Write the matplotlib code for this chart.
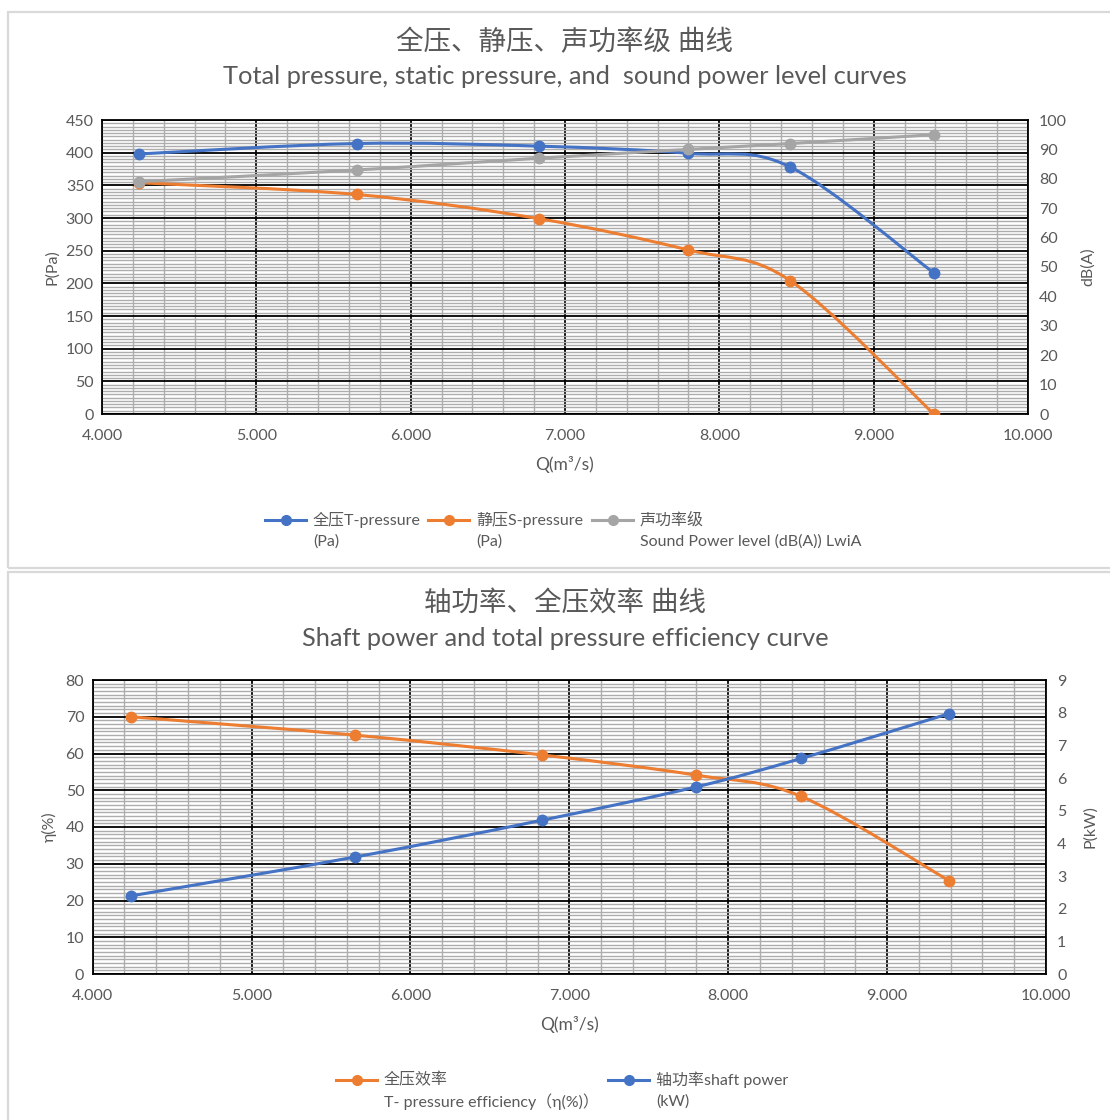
import matplotlib
matplotlib.use("Agg")
import matplotlib.pyplot as plt
import numpy as np
from matplotlib.path import Path
from matplotlib.patches import PathPatch, Rectangle
from matplotlib.lines import Line2D
from matplotlib.ticker import MultipleLocator, FormatStrFormatter

plt.rcParams['font.family'] = ['Lato', 'Noto Sans CJK SC', 'DejaVu Sans']

# flow rate Q (m3/s), shared by both charts
q = [4.24, 5.65, 6.83, 7.80, 8.46, 9.39]

# top chart
t_pressure = [398, 414, 410, 399, 378, 216]
s_pressure = [354, 336, 299, 251, 204, 0]
sound_level = [79, 83, 87, 90, 92, 95]

# bottom chart
efficiency = [70, 65, 59.6, 54.1, 48.3, 25.4]
shaft_power = [2.39, 3.58, 4.71, 5.73, 6.60, 7.97]

top_labels = [('全压T-pressure', '(Pa)'), ('静压S-pressure', '(Pa)'),
              ('声功率级', 'Sound Power level (dB(A)) LwiA')]
bottom_labels = [('全压效率', 'T- pressure efficiency（η(%)）'), ('轴功率shaft power', '(kW)')]

BLUE = '#4472C4'
ORANGE = '#ED7D31'
GRAY = '#A5A5A5'
TXT = '#595959'
W, H = 1110, 1120
FS = 11.5


def fx(px):
    return px / W


def fy(py):
    return 1 - py / H


def smooth_path(xs, ys):
    """Excel-style smoothed line as cubic bezier segments"""
    pts = np.column_stack([xs, ys]).astype(float)
    ext = np.vstack([pts[0], pts, pts[-1]])
    verts = [pts[0]]
    codes = [Path.MOVETO]
    for i in range(len(pts) - 1):
        p0, p1, p2, p3 = ext[i], ext[i + 1], ext[i + 2], ext[i + 3]
        verts += [p1 + (p2 - p0) / 6, p2 - (p3 - p1) / 6, p2]
        codes += [Path.CURVE4] * 3
    return Path(verts, codes)


def draw_series(ax, xs, ys, color, z):
    ax.add_patch(PathPatch(smooth_path(xs, ys), facecolor='none', edgecolor=color,
                           lw=2.2, zorder=z, capstyle='round'))
    ax.plot(xs, ys, ls='none', marker='o', ms=7.5, color=color, zorder=z + 0.5)


def legend_entry(x0, y0, color, lines):
    # hand-made legend entry: handle lines up with the first text row
    fig.add_artist(Line2D([fx(x0), fx(x0 + 41)], [fy(y0), fy(y0)], color=color, lw=2.2,
                          transform=fig.transFigure))
    fig.add_artist(Line2D([fx(x0 + 20.5)], [fy(y0)], marker='o', ms=7, color=color,
                          transform=fig.transFigure))
    for k, s in enumerate(lines):
        fig.text(fx(x0 + 48), fy(y0 + 22 * k), s, ha='left', va='center',
                 fontsize=FS, color=TXT)


def style_axes(ax, ymax, ymaj, ymin):
    ax.set_xlim(4, 10)
    ax.set_ylim(0, ymax)
    ax.xaxis.set_major_locator(MultipleLocator(1))
    ax.xaxis.set_minor_locator(MultipleLocator(0.2))
    ax.yaxis.set_major_locator(MultipleLocator(ymaj))
    ax.yaxis.set_minor_locator(MultipleLocator(ymin))
    ax.xaxis.set_major_formatter(FormatStrFormatter('%.3f'))
    ax.grid(which='major', color='black', lw=1.3)
    ax.grid(which='minor', color='#ADADAD', lw=1.0)
    ax.set_axisbelow(True)
    ax.tick_params(which='both', length=0, labelsize=FS, labelcolor=TXT)
    ax.tick_params(axis='x', pad=11)
    ax.tick_params(axis='y', pad=6)
    for s in ax.spines.values():
        s.set_color('black')
        s.set_linewidth(1.3)
    ax.set_xlabel('Q(m³/s)', fontsize=12.5, color=TXT, labelpad=9)


def style_right(ax, ymax, step):
    ax.set_ylim(0, ymax)
    ax.yaxis.set_major_locator(MultipleLocator(step))
    ax.tick_params(length=0, labelsize=FS, labelcolor=TXT, pad=8)
    for s in ax.spines.values():
        s.set_visible(False)


fig = plt.figure(figsize=(11.1, 11.2), dpi=100)

# chart frames
for y0, y1 in [(12, 568), (572, 1125)]:
    fig.patches.append(Rectangle((fx(8), fy(y1)), 1.2, (y1 - y0) / H,
                                 transform=fig.transFigure, fill=False,
                                 edgecolor='#D9D9D9', lw=1.6))

# ---- top chart ----
ax1 = fig.add_axes([fx(102), fy(414), fx(926), 294 / H])
style_axes(ax1, 450, 50, 5)
ax1.set_ylabel('P(Pa)', fontsize=FS, color=TXT)
ax1.yaxis.set_label_coords(-0.046, 0.5)
ax1r = ax1.twinx()
style_right(ax1r, 100, 10)
ax1r.set_ylabel('dB(A)', fontsize=FS, color=TXT)
ax1r.yaxis.set_label_coords(1.057, 0.5)

draw_series(ax1, q, t_pressure, BLUE, 3)
draw_series(ax1, q, s_pressure, ORANGE, 3)
draw_series(ax1r, q, sound_level, GRAY, 4)

fig.text(fx(565), fy(42), '全压、静压、声功率级 曲线', ha='center', va='center',
         fontsize=19.8, color=TXT)
fig.text(fx(565), fy(77), 'Total pressure, static pressure, and  sound power level curves',
         ha='center', va='center', fontsize=18.3, color=TXT)

for x0, c, lab in zip([265, 428, 592], [BLUE, ORANGE, GRAY], top_labels):
    legend_entry(x0, 520, c, lab)

# ---- bottom chart ----
ax2 = fig.add_axes([fx(92.7), fy(974), fx(953.3), 294 / H])
style_axes(ax2, 80, 10, 1)
ax2.set_ylabel('η(%)', fontsize=FS, color=TXT)
ax2.yaxis.set_label_coords(-0.0375, 0.5)
ax2r = ax2.twinx()
style_right(ax2r, 9, 1)
ax2r.set_ylabel('P(kW)', fontsize=FS, color=TXT)
ax2r.yaxis.set_label_coords(1.039, 0.5)

draw_series(ax2, q, efficiency, ORANGE, 3)
draw_series(ax2r, q, shaft_power, BLUE, 4)

fig.text(fx(565), fy(603), '轴功率、全压效率 曲线', ha='center', va='center',
         fontsize=19.8, color=TXT)
fig.text(fx(565), fy(638), 'Shaft power and total pressure efficiency curve',
         ha='center', va='center', fontsize=18.3, color=TXT)

for x0, c, lab in zip([336, 608], [ORANGE, BLUE], bottom_labels):
    legend_entry(x0, 1080, c, lab)

fig.savefig('out.png', dpi=100)
